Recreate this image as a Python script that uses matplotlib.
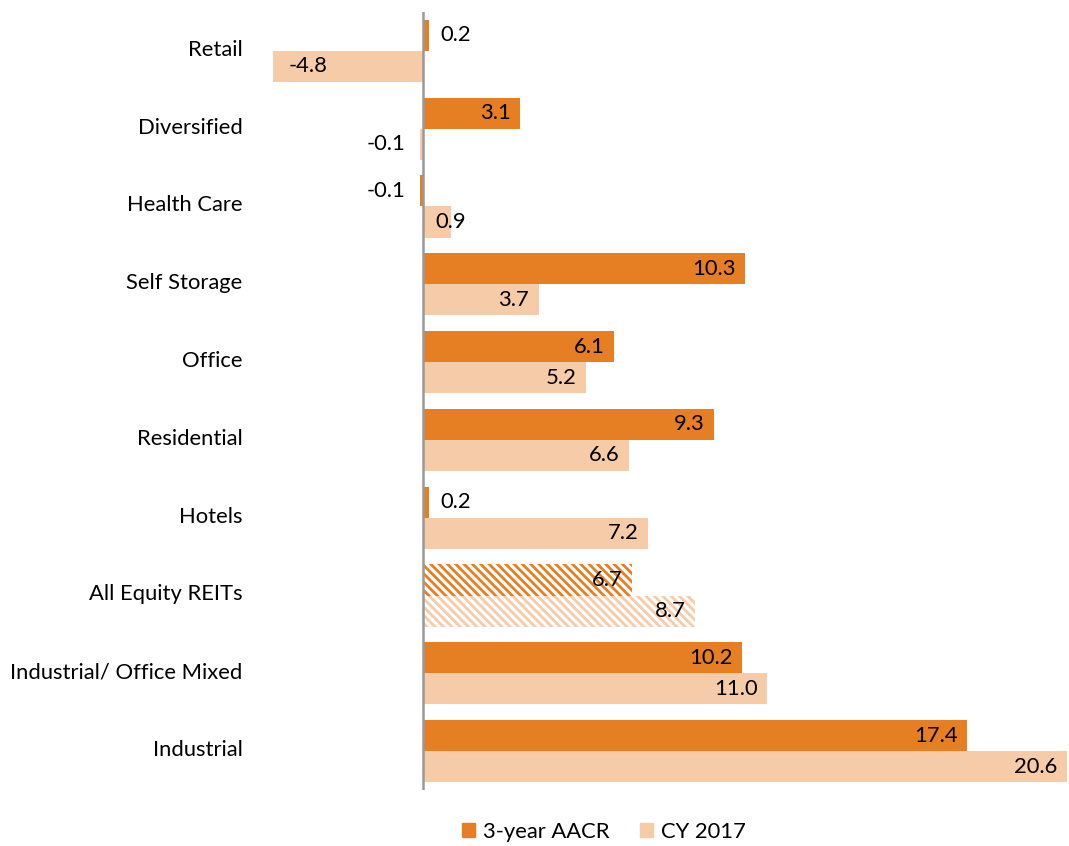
import matplotlib.pyplot as plt
import numpy as np
from matplotlib.patches import Patch

plt.rcParams['font.family'] = ['Lato', 'DejaVu Sans']
plt.rcParams['hatch.linewidth'] = 2.0

sectors = ['Retail', 'Diversified', 'Health Care', 'Self Storage', 'Office',
           'Residential', 'Hotels', 'All Equity REITs', 'Industrial/ Office Mixed',
           'Industrial']
aacr_3yr = [0.2, 3.1, -0.1, 10.3, 6.1, 9.3, 0.2, 6.7, 10.2, 17.4]
cy_2017 = [-4.8, -0.1, 0.9, 3.7, 5.2, 6.6, 7.2, 8.7, 11.0, 20.6]
series_names = ['3-year AACR', 'CY 2017']

dark = '#E67F24'
light = '#F6CBA7'
fs = 15.8

fig = plt.figure(figsize=(10.69, 8.46), dpi=100)
ax = fig.add_axes([273 / 1069, 56 / 846, 794 / 1069, 778 / 846])

# first sector sits at the top
y = np.arange(len(sectors))[::-1]
h = 0.4
hatched = sectors.index('All Equity REITs')

for vals, off, col in [(aacr_3yr, h / 2, dark), (cy_2017, -h / 2, light)]:
    bars = ax.barh(y + off, vals, height=h, color=col, linewidth=0)
    b = bars[hatched]
    b.set_facecolor('white')
    b.set_edgecolor(col)
    b.set_hatch('\\\\\\\\')

    for yi, v in zip(y + off, vals):
        txt = f'{v:.1f}'
        if abs(v) < 0.5:
            if v >= 0:
                ax.text(v + 0.35, yi, txt, ha='left', va='center', fontsize=fs)
            else:
                ax.text(v - 0.45, yi, txt, ha='right', va='center', fontsize=fs)
        elif abs(v) < 1.5:
            ax.text(v, yi, txt, ha='center', va='center', fontsize=fs)
        elif v > 0:
            ax.text(v - 0.3, yi, txt, ha='right', va='center', fontsize=fs)
        else:
            ax.text(v + 0.5, yi, txt, ha='left', va='center', fontsize=fs)

ax.set_xlim(-4.8, 20.6)
ax.set_ylim(-0.5, 9.5)
ax.axvline(0, color='#999999', linewidth=1.8)

ax.set_yticks(y + 0.04)
ax.set_yticklabels(sectors, fontsize=fs)
ax.tick_params(axis='y', length=0, pad=22)
ax.set_xticks([])
for s in ax.spines.values():
    s.set_visible(False)

handles = [Patch(color=dark), Patch(color=light)]
fig.legend(handles, series_names, loc='center', bbox_to_anchor=(604 / 1069, 14 / 846),
           ncol=2, frameon=False, fontsize=fs, handlelength=0.6, handleheight=0.6,
           handletextpad=0.35, columnspacing=1.4)

fig.savefig('out.png', dpi=100)
